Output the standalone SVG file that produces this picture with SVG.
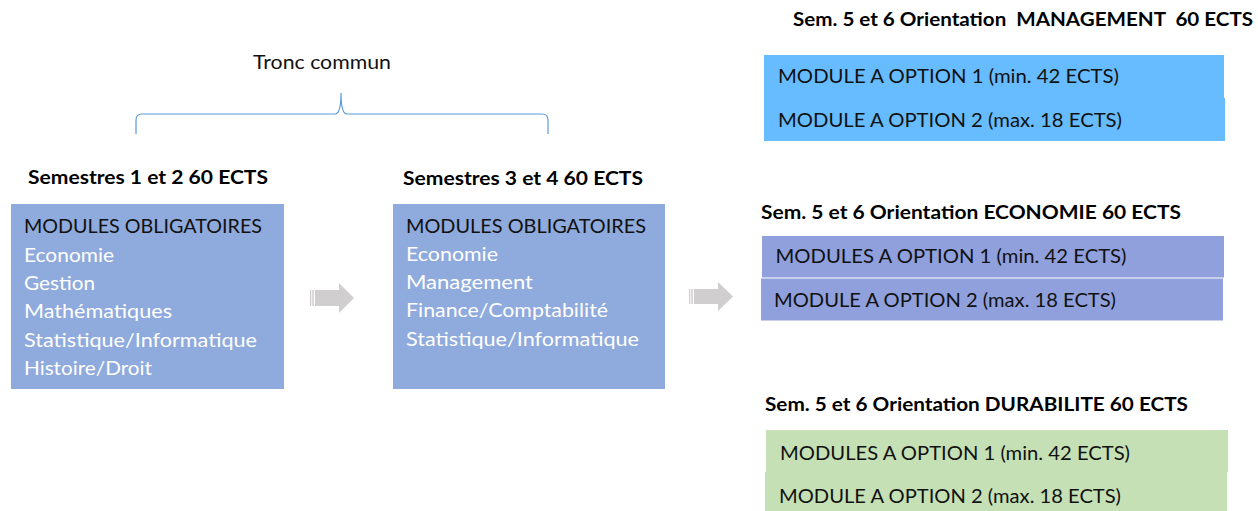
<svg xmlns="http://www.w3.org/2000/svg" width="1258" height="511" viewBox="0 0 1258 511">
<style>
text{font-family:Lato,"Liberation Sans",sans-serif}
.t{font-size:18.5px;font-weight:bold;fill:#000}
.h{font-size:19.5px;fill:#111}
.w{font-size:19.5px;fill:#fff}
.lb{fill:#8FAADC}
.mg{fill:#67BCFF}
.ec{fill:#8FA0DC}
.du{fill:#C5E0B4}
.arr{fill:#D0CECE}
.brace{fill:none;stroke:#5B9BD5;stroke-width:1.2}
</style>
<rect width="1258" height="511" fill="#fff"/>
<g id="connectors">
  <path class="brace" d="M136,134 V120 Q136,114 142,114 H335 Q341,114 341,93 Q341,114 347,114 H542 Q548,114 548,120 V134"/>
  <g id="arrow1" class="arr">
    <rect x="310" y="290" width="1.3" height="16"/>
    <rect x="312.3" y="290" width="1.5" height="16"/>
    <polygon points="315,290 339,290 339,283 354,298 339,313 339,306 315,306"/>
  </g>
  <g id="arrow2" class="arr">
    <rect x="689" y="289" width="1.3" height="15"/>
    <rect x="691.3" y="289" width="1.5" height="15"/>
    <polygon points="694,289 718,289 718,282 733,296.5 718,311 718,304 694,304"/>
  </g>
</g>
<g id="tronc">
  <text x="253" y="69" style="font-size:19.5px;fill:#111" textLength="138" lengthAdjust="spacingAndGlyphs">Tronc commun</text>
</g>
<g id="sem12">
  <text class="t" x="28" y="183.5" textLength="240" lengthAdjust="spacingAndGlyphs">Semestres 1 et 2 60 ECTS</text>
  <rect class="lb" x="11" y="204" width="273" height="185"/>
  <text class="h" x="24" y="233" textLength="238" lengthAdjust="spacingAndGlyphs">MODULES OBLIGATOIRES</text>
  <text class="w" x="24" y="261.5" textLength="90" lengthAdjust="spacingAndGlyphs">Economie</text>
  <text class="w" x="24" y="290" textLength="71" lengthAdjust="spacingAndGlyphs">Gestion</text>
  <text class="w" x="24" y="318.3" textLength="148" lengthAdjust="spacingAndGlyphs">Mathématiques</text>
  <text class="w" x="24" y="346.6" textLength="233" lengthAdjust="spacingAndGlyphs">Statistique/Informatique</text>
  <text class="w" x="24" y="375.3" textLength="128" lengthAdjust="spacingAndGlyphs">Histoire/Droit</text>
</g>
<g id="sem34">
  <text class="t" x="403" y="184.5" textLength="240" lengthAdjust="spacingAndGlyphs">Semestres 3 et 4 60 ECTS</text>
  <rect class="lb" x="393" y="204" width="272" height="185"/>
  <text class="h" x="406" y="232.5" textLength="240" lengthAdjust="spacingAndGlyphs">MODULES OBLIGATOIRES</text>
  <text class="w" x="406" y="260.8" textLength="92" lengthAdjust="spacingAndGlyphs">Economie</text>
  <text class="w" x="406" y="289" textLength="127" lengthAdjust="spacingAndGlyphs">Management</text>
  <text class="w" x="406" y="317.2" textLength="202" lengthAdjust="spacingAndGlyphs">Finance/Comptabilité</text>
  <text class="w" x="406" y="345.6" textLength="233" lengthAdjust="spacingAndGlyphs">Statistique/Informatique</text>
</g>
<g id="management">
  <text class="t" x="793" y="25.5" textLength="460" lengthAdjust="spacingAndGlyphs" xml:space="preserve">Sem. 5 et 6 Orientation  MANAGEMENT  60 ECTS</text>
  <rect class="mg" x="764" y="55" width="460" height="43"/>
  <rect class="mg" x="764" y="98" width="461" height="43"/>
  <text class="h" x="778" y="83.3" textLength="341" lengthAdjust="spacingAndGlyphs">MODULE A OPTION 1 (min. 42 ECTS)</text>
  <text class="h" x="778" y="126.7" textLength="344" lengthAdjust="spacingAndGlyphs">MODULE A OPTION 2 (max. 18 ECTS)</text>
</g>
<g id="economie">
  <text class="t" x="761" y="218.5" textLength="420" lengthAdjust="spacingAndGlyphs">Sem. 5 et 6 Orientation ECONOMIE 60 ECTS</text>
  <rect class="ec" x="762" y="236" width="462" height="41.5"/>
  <rect class="ec" x="761" y="278.5" width="462" height="42"/>
  <text class="h" x="775.5" y="263.2" textLength="351" lengthAdjust="spacingAndGlyphs">MODULES A OPTION 1 (min. 42 ECTS)</text>
  <text class="h" x="774" y="307" textLength="342" lengthAdjust="spacingAndGlyphs">MODULE A OPTION 2 (max. 18 ECTS)</text>
</g>
<g id="durabilite">
  <text class="t" x="765" y="410.5" textLength="423" lengthAdjust="spacingAndGlyphs">Sem. 5 et 6 Orientation DURABILITE 60 ECTS</text>
  <rect class="du" x="766" y="430" width="462" height="42"/>
  <rect class="du" x="765" y="472" width="462" height="39"/>
  <text class="h" x="780" y="460" textLength="350" lengthAdjust="spacingAndGlyphs">MODULES A OPTION 1 (min. 42 ECTS)</text>
  <text class="h" x="779" y="503" textLength="342" lengthAdjust="spacingAndGlyphs">MODULE A OPTION 2 (max. 18 ECTS)</text>
</g>
</svg>
